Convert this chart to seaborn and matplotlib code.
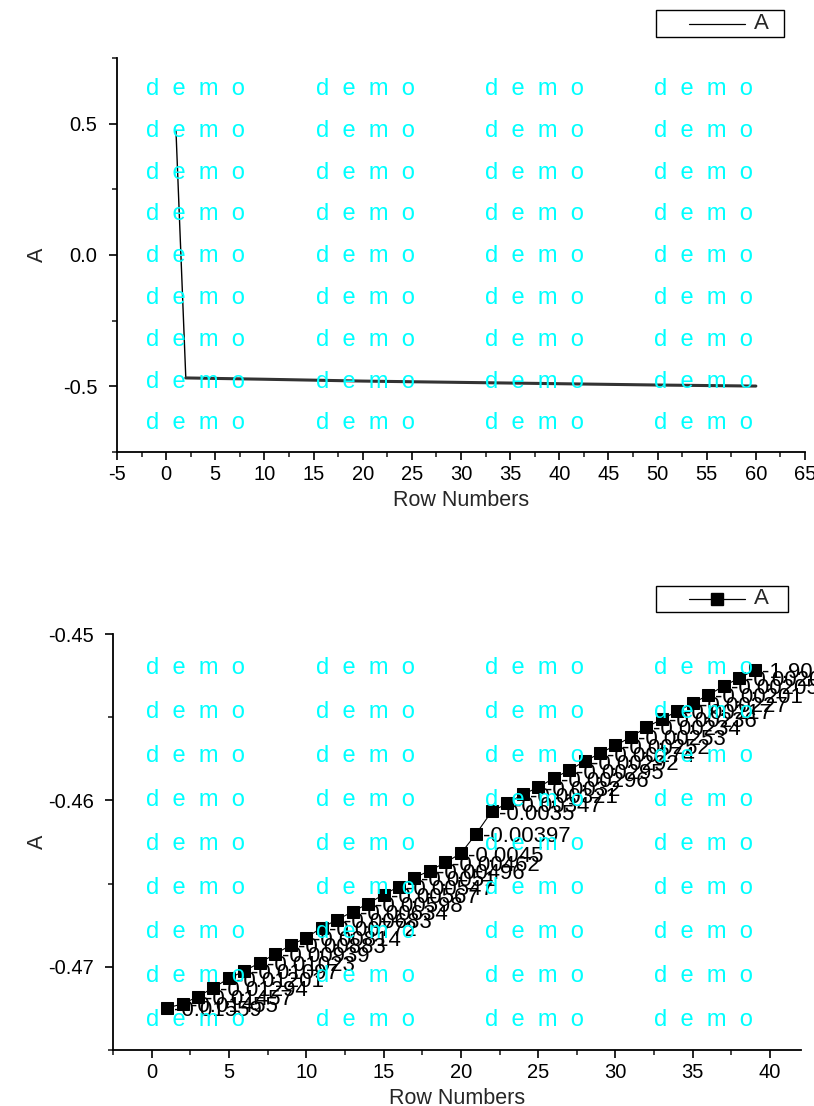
import matplotlib
matplotlib.use("Agg")
import matplotlib.pyplot as plt
from matplotlib.lines import Line2D
from matplotlib.patches import Rectangle
from matplotlib.ticker import MultipleLocator
import seaborn as sns

# top panel: full column A
rows_all = [1, 2, 10, 20, 30, 40, 50, 60]
a_all = [0.473, -0.468, -0.473, -0.480, -0.485, -0.490, -0.495, -0.499]

# bottom panel: rows 1-39 with point labels
rows = list(range(1, 40))
a_vals = [-0.47247, -0.47223, -0.47179, -0.47125, -0.47070, -0.47024, -0.46976,
          -0.46922, -0.46870, -0.46825, -0.46765, -0.46717, -0.46669, -0.46620,
          -0.46566, -0.46518, -0.46464, -0.46422, -0.46373, -0.46319, -0.46199,
          -0.46066, -0.46018, -0.45964, -0.45922, -0.45867, -0.45819, -0.45765,
          -0.45717, -0.45669, -0.45620, -0.45560, -0.45512, -0.45464, -0.45416,
          -0.45367, -0.45313, -0.45265, -0.45217]
point_labels = ["-0.01559", "-0.01455", "-0.01457", "-0.01294", "-0.01201", "-0.01097",
                "-0.01023", "-0.00939", "-0.00883", "-0.00814", "-0.00772", "-0.00683",
                "-0.00634", "-0.00598", "-0.00567", "-0.00547", "-0.0051", "-0.00496",
                "-0.00462", "-0.0045", "-0.00397", "-0.0035", "-0.00347", "-0.00321",
                "-0.0032", "-0.00296", "-0.00295", "-0.00292", "-0.00274", "-0.00252",
                "-0.00253", "-0.00234", "-0.00236", "-0.00217", "-0.00227", "-0.00201",
                "-0.00205", "-0.00201", "-1.90E-4"]

sns.set_style("ticks")
plt.rcParams["font.family"] = ["Liberation Sans", "DejaVu Sans"]
plt.rcParams["axes.unicode_minus"] = False

W, H = 814, 1106
fig = plt.figure(figsize=(W / 100, H / 100), dpi=100)

def px_axes(l, t, r, b):
    return fig.add_axes([l / W, 1 - b / H, (r - l) / W, (b - t) / H])

ax1 = px_axes(117, 58, 805, 452)
ax2 = px_axes(113, 634, 801, 1050)

# top
sns.lineplot(x=rows_all, y=a_all, ax=ax1, color="black", lw=1, sort=False)
sns.lineplot(x=rows_all[1:], y=a_all[1:], ax=ax1, color="#333333", lw=2.2, sort=False)
ax1.set_xlim(-5, 65)
ax1.set_ylim(-0.75, 0.75)
ax1.xaxis.set_major_locator(MultipleLocator(5))
ax1.xaxis.set_minor_locator(MultipleLocator(2.5))
ax1.yaxis.set_minor_locator(MultipleLocator(0.25))

# bottom
sns.lineplot(x=rows, y=a_vals, ax=ax2, color="black", lw=0.8, marker="s",
             markersize=8, markeredgecolor="black", sort=False)
for xv, yv, lab in zip(rows, a_vals, point_labels):
    ax2.annotate(lab, (xv, yv), xytext=(5, -2), textcoords="offset points",
                 ha="left", va="center", fontsize=16, color="black",
                 annotation_clip=False)
ax2.set_xlim(-2.5, 42)
ax2.set_ylim(-0.475, -0.45)
ax2.xaxis.set_major_locator(MultipleLocator(5))
ax2.xaxis.set_minor_locator(MultipleLocator(2.5))
ax2.yaxis.set_minor_locator(MultipleLocator(0.005))

for ax in (ax1, ax2):
    sns.despine(ax=ax)
    for s in ("left", "bottom"):
        ax.spines[s].set_linewidth(1.3)
        ax.spines[s].set_color("black")
    ax.tick_params(which="major", direction="out", length=6, width=1.2,
                   labelsize=14.5, colors="black")
    ax.tick_params(axis="y", which="major", pad=8)
    ax.tick_params(which="minor", direction="out", length=3.5, width=1.2)
    ax.set_xlabel("Row Numbers", fontsize=15.5, labelpad=4)
    ax.set_ylabel("A", fontsize=15.5)
    if ax.get_legend():
        ax.get_legend().remove()

ax1.yaxis.set_label_coords(-0.10, 0.5)
ax2.yaxis.set_label_coords(-0.094, 0.5)
ax1.set_yticks([-0.5, 0.0, 0.5])
ax1.set_yticklabels(["-0.5", "0.0", "0.5"])
ax2.set_yticks([-0.47, -0.46, -0.45])
ax2.set_yticklabels(["-0.47", "-0.46", "-0.45"])

# watermark grid
cols_px = [146, 316, 485, 654]
for y0, step in ((89, 41.8), (668, 44)):
    for k in range(9):
        for cx in cols_px:
            fig.text(cx / W, 1 - (y0 + k * step) / H, "d  e  m  o", color="cyan",
                     fontsize=17, ha="left", va="center", zorder=10)

# legends drawn in pixel space
def legend_box(l, t, r, b, marker):
    yc = 1 - (t + b) / 2 / H
    fig.add_artist(Rectangle((l / W, 1 - b / H), (r - l) / W, (b - t) / H,
                             transform=fig.transFigure, fill=False,
                             edgecolor="black", lw=1.0))
    fig.add_artist(Line2D([689 / W, 745 / W], [yc, yc], transform=fig.transFigure,
                          color="black", lw=0.9))
    if marker:
        fig.add_artist(Line2D([717 / W], [yc], transform=fig.transFigure,
                              marker="s", markersize=8, color="black"))
    fig.text(754 / W, yc, "A", fontsize=16, ha="left", va="center")

legend_box(656, 10, 784, 37, False)
legend_box(656, 586, 788, 612, True)

fig.savefig("out.png", dpi=100)
